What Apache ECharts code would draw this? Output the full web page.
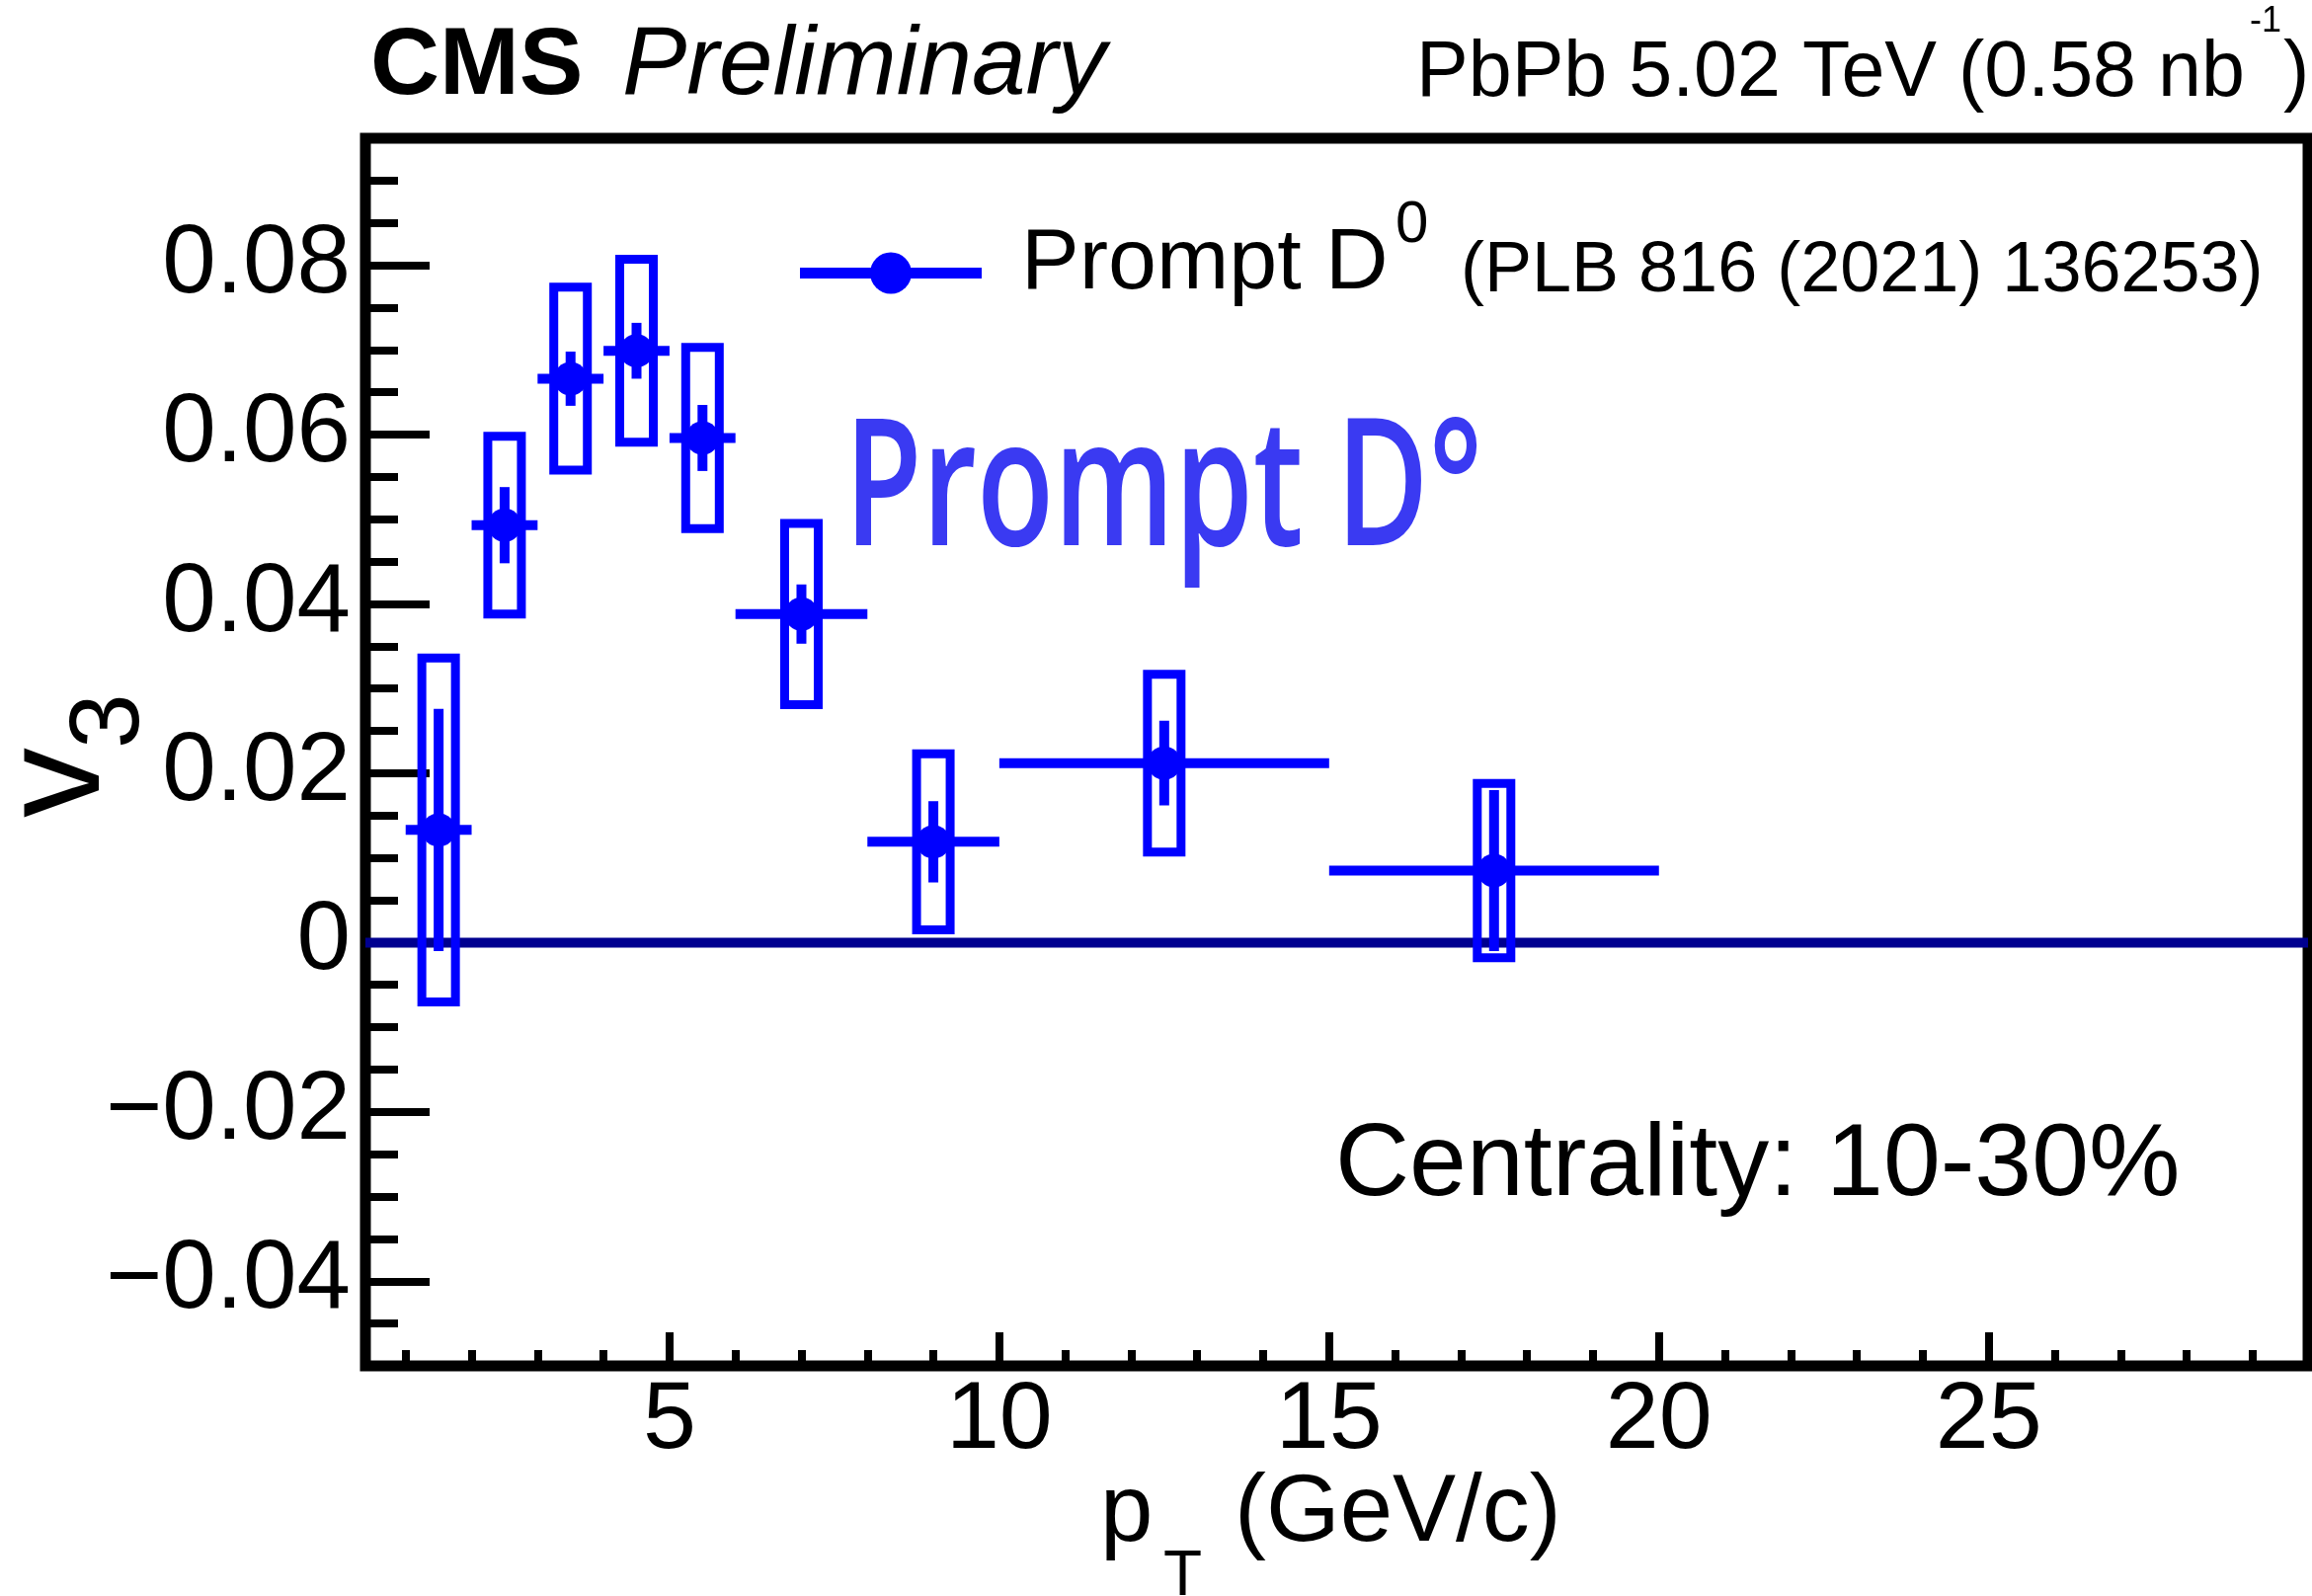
<!DOCTYPE html>
<html><head><meta charset="utf-8">
<script src="https://cdn.jsdelivr.net/npm/echarts@6/dist/echarts.min.js"></script>
<style>html,body{margin:0;padding:0;background:#fff}#c{width:2341px;height:1616px}</style>
</head><body><div id="c"></div>
<script>
// ---- data ----
const ptCenter = [1.5, 2.5, 3.5, 4.5, 5.5, 7, 9, 12.5, 17.5];
const ptLow    = [1, 2, 3, 4, 5, 6, 8, 10, 15];
const ptHigh   = [2, 3, 4, 5, 6, 8, 10, 15, 20];
const v3       = [0.0133, 0.0493, 0.0666, 0.0699, 0.0596, 0.0388, 0.0119, 0.0212, 0.0085];
const statErr  = [0.0143, 0.0045, 0.0032, 0.0033, 0.0039, 0.0035, 0.0048, 0.0050, 0.0095];
const systErr  = [0.0203, 0.0105, 0.0108, 0.0108, 0.0107, 0.0107, 0.0104, 0.0105, 0.0103];

const xMajorTicks = [5, 10, 15, 20, 25];
const xTickLabels = ['5', '10', '15', '20', '25'];
const xMinorTicks = [1,2,3,4,6,7,8,9,11,12,13,14,16,17,18,19,21,22,23,24,26,27,28,29];
const yMajorTicks = [-0.04, -0.02, 0, 0.02, 0.04, 0.06, 0.08];
const yTickLabels = ['\u22120.04', '\u22120.02', '0', '0.02', '0.04', '0.06', '0.08'];
const yMinorTicks = [-0.045,-0.035,-0.03,-0.025,-0.015,-0.01,-0.005,0.005,0.01,0.015,0.025,0.03,0.035,0.045,0.05,0.055,0.065,0.07,0.075,0.085,0.09];

const X_MIN = 0.39, X_MAX = 29.84, Y_MIN = -0.05, Y_MAX = 0.095;

const BLUE = '#0000ff';
const FONT = "'Liberation Sans', Arial, Helvetica, sans-serif";

const seriesData = ptCenter.map((x, i) => [x, v3[i], ptLow[i], ptHigh[i], statErr[i], systErr[i]]);

const chart = echarts.init(document.getElementById('c'), null, {renderer: 'canvas'});

function txt(text, x, y, size, opts) {
  opts = opts || {};
  return {
    type: 'text', x: x, y: y, z: 100,
    rotation: opts.rotation || 0,
    style: {
      text: text, fill: opts.color || '#000',
      fontSize: size, fontFamily: opts.family || FONT,
      fontWeight: opts.weight || 'normal', fontStyle: opts.style || 'normal',
      align: opts.align || 'left', verticalAlign: 'middle'
    }
  };
}

const option = {
  backgroundColor: '#fff',
  animation: false,
  grid: {left: 370, right: 4, top: 140, bottom: 233, show: true, borderColor: '#000', borderWidth: 11, backgroundColor: 'transparent', containLabel: false},
  xAxis: [
    {type: 'value', min: X_MIN, max: X_MAX, position: 'bottom',
     axisLine: {show: false, onZero: false}, splitLine: {show: false},
     axisTick: {show: true, inside: true, length: 34, customValues: xMajorTicks, lineStyle: {color: '#000', width: 8}},
     axisLabel: {show: true, customValues: xMajorTicks, margin: 8, color: '#000', fontSize: 97, fontFamily: FONT,
       formatter: v => { const k = xMajorTicks.indexOf(v); return k >= 0 ? xTickLabels[k] : ''; }}},
    {type: 'value', min: X_MIN, max: X_MAX, position: 'bottom',
     axisLine: {show: false, onZero: false}, splitLine: {show: false}, axisLabel: {show: false},
     axisTick: {show: true, inside: true, length: 16, customValues: xMinorTicks, lineStyle: {color: '#000', width: 8}}}
  ],
  yAxis: [
    {type: 'value', min: Y_MIN, max: Y_MAX, position: 'left',
     axisLine: {show: false, onZero: false}, splitLine: {show: false},
     axisTick: {show: true, inside: true, length: 65, customValues: yMajorTicks, lineStyle: {color: '#000', width: 8}},
     axisLabel: {show: true, customValues: yMajorTicks, margin: 15, color: '#000', fontSize: 98, fontFamily: FONT,
       formatter: v => { let k = -1; yMajorTicks.forEach((t, j) => { if (Math.abs(t - v) < 1e-9) k = j; }); return k >= 0 ? yTickLabels[k] : ''; }}},
    {type: 'value', min: Y_MIN, max: Y_MAX, position: 'left',
     axisLine: {show: false, onZero: false}, splitLine: {show: false}, axisLabel: {show: false},
     axisTick: {show: true, inside: true, length: 33, customValues: yMinorTicks, lineStyle: {color: '#000', width: 8}}}
  ],
  series: [
    {type: 'line', name: 'zero', xAxisIndex: 0, yAxisIndex: 0, z: 1, symbol: 'none', silent: true,
     data: [[X_MIN, 0], [X_MAX, 0]], lineStyle: {color: '#000090', width: 10}},
    {type: 'custom', name: 'Prompt D0', xAxisIndex: 0, yAxisIndex: 0, z: 5, clip: false,
     data: seriesData,
     renderItem: function (params, api) {
       const xc = api.value(0), y = api.value(1), xl = api.value(2), xh = api.value(3), st = api.value(4), sy = api.value(5);
       const pC = api.coord([xc, y]);
       const pL = api.coord([xl, y]);
       const pH = api.coord([xh, y]);
       const sT = api.coord([xc, y + st]);
       const sB = api.coord([xc, y - st]);
       const bT = api.coord([xc, y + sy]);
       const bB = api.coord([xc, y - sy]);
       const bw = 34;
       return {type: 'group', children: [
         {type: 'rect', shape: {x: pC[0] - bw / 2, y: bT[1], width: bw, height: bB[1] - bT[1]}, style: {fill: 'none', stroke: BLUE, lineWidth: 9}},
         {type: 'line', shape: {x1: pL[0], y1: pC[1], x2: pH[0], y2: pC[1]}, style: {stroke: BLUE, lineWidth: 10}},
         {type: 'line', shape: {x1: pC[0], y1: sT[1], x2: pC[0], y2: sB[1]}, style: {stroke: BLUE, lineWidth: 10}},
         {type: 'circle', shape: {cx: pC[0], cy: pC[1], r: 17}, style: {fill: BLUE}}
       ]};
     }}
  ],
  graphic: [
    // header
    txt('CMS', 375, 68, 97, {weight: 'bold'}),
    txt('Preliminary', 630, 68, 98, {style: 'italic'}),
    txt('PbPb 5.02 TeV (0.58 nb', 1434, 75, 79),
    txt('-1', 2278, 22, 36),
    txt(')', 2312, 75, 79),
    // legend
    {type: 'line', z: 100, shape: {x1: 810, y1: 276.5, x2: 994, y2: 276.5}, style: {stroke: BLUE, lineWidth: 11}},
    {type: 'circle', z: 101, shape: {cx: 902, cy: 276.5, r: 21}, style: {fill: BLUE}},
    txt('Prompt D', 1034, 268, 88),
    txt('0', 1413, 228, 60),
    txt('(PLB 816 (2021) 136253)', 1479, 275, 72),
    // handwritten annotation
    {type: 'text', x: 855, y: 521, z: 100, scaleY: 1.4, originY: 50,
     style: {text: 'Prompt D\u00b0', fill: '#3a3af2', fontSize: 128, fontFamily: "'Open Sans', 'Noto Sans', sans-serif", fontWeight: 600, align: 'left', verticalAlign: 'middle'}},
    // centrality
    txt('Centrality: 10-30%', 1352, 1181, 104),
    // x axis title
    txt('p', 1114, 1534, 96),
    txt('T', 1178, 1597, 64),
    txt('(GeV/c)', 1250, 1534, 96),
    // y axis title
    txt('v', 61, 828, 142, {rotation: Math.PI / 2}),
    txt('3', 112, 758, 100, {rotation: Math.PI / 2})
  ]
};
chart.setOption(option);
</script>
</body></html>
